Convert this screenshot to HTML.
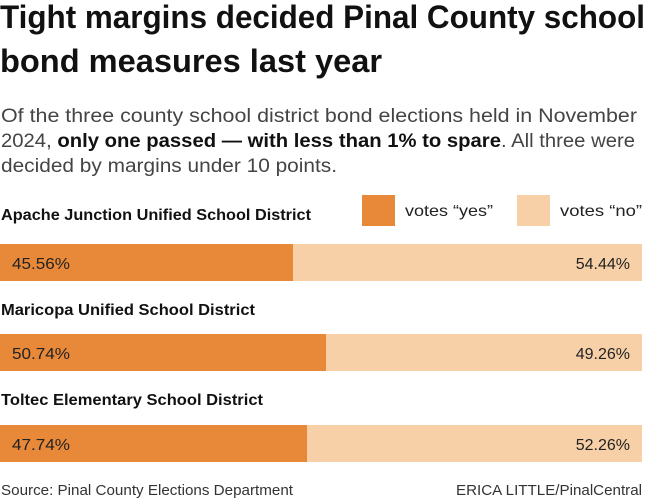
<!DOCTYPE html>
<html><head><meta charset="utf-8"><style>
html,body{margin:0;padding:0;background:#fff;}
svg{display:block;font-family:"Liberation Sans",sans-serif;}
</style></head><body>
<svg width="653" height="500" viewBox="0 0 653 500" xmlns="http://www.w3.org/2000/svg">
<text x="0" y="28" font-size="32" font-weight="bold" fill="#111" textLength="645" lengthAdjust="spacingAndGlyphs">Tight margins decided Pinal County school</text>
<text x="0" y="72" font-size="32" font-weight="bold" fill="#111" textLength="382" lengthAdjust="spacingAndGlyphs">bond measures last year</text>
<text x="1" y="122" font-size="19" fill="#444" textLength="636" lengthAdjust="spacingAndGlyphs">Of the three county school district bond elections held in November</text>
<text x="1" y="147" font-size="19" fill="#444" textLength="634" lengthAdjust="spacingAndGlyphs">2024, <tspan font-weight="bold" fill="#111">only one passed — with less than 1% to spare</tspan>. All three were</text>
<text x="1" y="172" font-size="19" fill="#444" textLength="336" lengthAdjust="spacingAndGlyphs">decided by margins under 10 points.</text>

<rect x="362" y="195" width="33" height="31" fill="#E8893A"/>
<text x="405" y="216" font-size="16" fill="#222" textLength="88" lengthAdjust="spacingAndGlyphs">votes “yes”</text>
<rect x="517" y="195" width="33" height="31" fill="#F8D0A8"/>
<text x="560" y="216" font-size="16" fill="#222" textLength="82" lengthAdjust="spacingAndGlyphs">votes “no”</text>

<text x="1" y="220" font-size="16" font-weight="bold" fill="#111" textLength="310" lengthAdjust="spacingAndGlyphs">Apache Junction Unified School District</text>
<rect x="0" y="244" width="642" height="37" fill="#F8D0A8"/>
<rect x="0" y="244" width="293" height="37" fill="#E8893A"/>
<text x="12" y="269" font-size="16" fill="#222" textLength="58" lengthAdjust="spacingAndGlyphs">45.56%</text>
<text x="630" y="269" font-size="16" fill="#222" text-anchor="end">54.44%</text>

<text x="1" y="315" font-size="16" font-weight="bold" fill="#111" textLength="254" lengthAdjust="spacingAndGlyphs">Maricopa Unified School District</text>
<rect x="0" y="334" width="642" height="37" fill="#F8D0A8"/>
<rect x="0" y="334" width="326" height="37" fill="#E8893A"/>
<text x="12" y="359" font-size="16" fill="#222" textLength="58" lengthAdjust="spacingAndGlyphs">50.74%</text>
<text x="630" y="359" font-size="16" fill="#222" text-anchor="end">49.26%</text>

<text x="1" y="405" font-size="16" font-weight="bold" fill="#111" textLength="262" lengthAdjust="spacingAndGlyphs">Toltec Elementary School District</text>
<rect x="0" y="425" width="642" height="37" fill="#F8D0A8"/>
<rect x="0" y="425" width="307" height="37" fill="#E8893A"/>
<text x="12" y="450" font-size="16" fill="#222" textLength="58" lengthAdjust="spacingAndGlyphs">47.74%</text>
<text x="630" y="450" font-size="16" fill="#222" text-anchor="end">52.26%</text>

<text x="1" y="495" font-size="15" fill="#333" textLength="292" lengthAdjust="spacingAndGlyphs">Source: Pinal County Elections Department</text>
<text x="642" y="495" font-size="15" fill="#333" text-anchor="end" textLength="186" lengthAdjust="spacingAndGlyphs">ERICA LITTLE/PinalCentral</text>
</svg>
</body></html>
